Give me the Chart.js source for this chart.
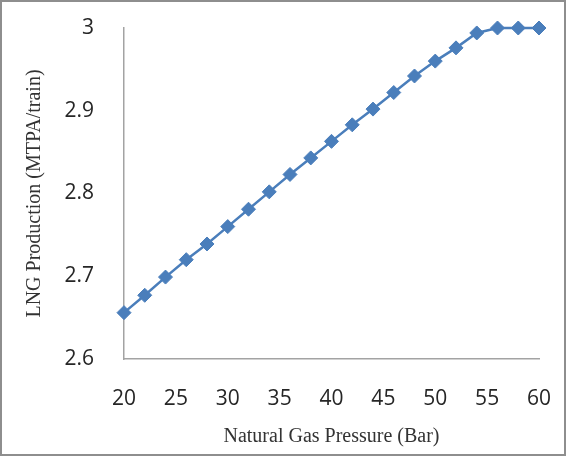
<!DOCTYPE html>
<html>
<head>
<meta charset="utf-8">
<script src="https://cdn.jsdelivr.net/npm/chart.js@4/dist/chart.umd.min.js"></script>
<style>
  body { margin: 0; background: #fff; }
  #frame { width: 566px; height: 456px; box-sizing: border-box; border: 2px solid #8e8e8e; }
  canvas { display: block; }
</style>
</head>
<body>
<div id="frame"><canvas id="chart" width="562" height="452"></canvas></div>
<script>
// gas pressure (bar) and LNG production (MTPA per train)
const pressure = [20, 22, 24, 26, 28, 30, 32, 34, 36, 38, 40, 42, 44, 46, 48, 50, 52, 54, 56, 58, 60];
const production = [2.656, 2.677, 2.699, 2.720, 2.739, 2.760, 2.781, 2.802, 2.823, 2.843, 2.863,
  2.883, 2.902, 2.922, 2.942, 2.960, 2.976, 2.994, 3.0, 3.0, 3.0];
const xTitle = "Natural Gas Pressure (Bar)";
const yTitle = "LNG Production (MTPA/train)";

const blue = "#4a7ebb";

new Chart(document.getElementById("chart"), {
  type: "line",
  data: {
    datasets: [{
      data: pressure.map((p, i) => ({ x: p, y: production[i] })),
      borderColor: blue,
      backgroundColor: blue,
      borderWidth: 2.5,
      pointStyle: "rectRot",
      pointRadius: 7,
      pointBorderWidth: 1,
      tension: 0,
    }],
  },
  options: {
    responsive: false,
    animation: false,
    clip: false,
    layout: { padding: { top: 26, right: 25, left: 0, bottom: 0 } },
    plugins: { legend: { display: false }, tooltip: { enabled: false } },
    scales: {
      x: {
        type: "linear",
        min: 20,
        max: 60,
        grid: { display: false },
        border: { display: true, color: "#a3a3a3", width: 1.5 },
        ticks: {
          stepSize: 5,
          padding: 19,
          color: "#262626",
          font: { family: "Open Sans", size: 21 },
          maxRotation: 0,
        },
        title: {
          display: true,
          text: xTitle,
          color: "#333",
          font: { family: "Liberation Serif", size: 20 },
          padding: { top: 0, bottom: 5 },
        },
        // fixed band below the plot; label overhang must not shrink the plot
        afterFit: (s) => { s.height = 95; s.paddingLeft = 0; s.paddingRight = 0; },
      },
      y: {
        min: 2.6,
        max: 3,
        grid: { display: false },
        border: { display: true, color: "#a3a3a3", width: 1.5 },
        ticks: {
          stepSize: 0.1,
          padding: 22,
          color: "#262626",
          font: { family: "Open Sans", size: 21 },
          callback: (v) => String(Number(v.toFixed(1))),
        },
        title: {
          display: true,
          text: yTitle,
          color: "#333",
          font: { family: "Liberation Serif", size: 20 },
          padding: { top: 21, bottom: 0 },
        },
        afterFit: (s) => { s.width = 122; s.paddingTop = 0; s.paddingBottom = 0; },
      },
    },
  },
});
</script>
</body>
</html>
